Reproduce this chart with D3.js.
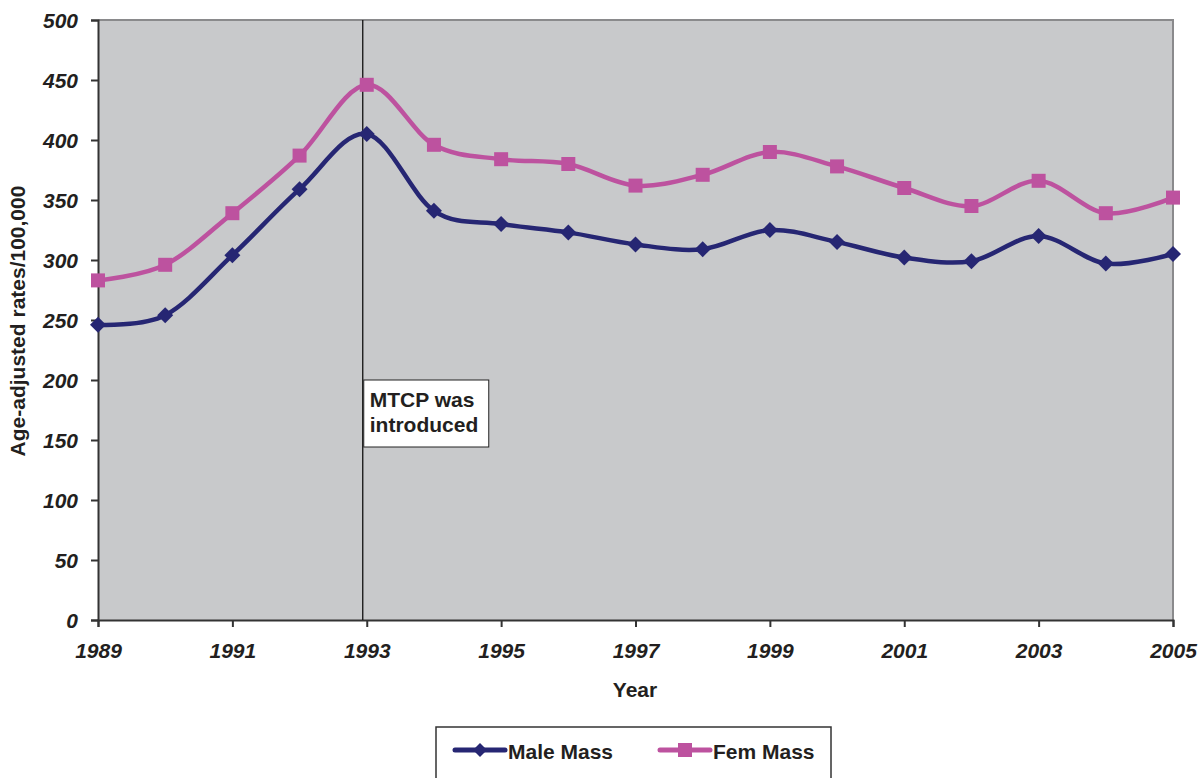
<!DOCTYPE html>
<html><head><meta charset="utf-8">
<script src="https://cdn.jsdelivr.net/npm/d3@7"></script>
<style>body{margin:0;background:#fff;} text{font-family:Arial,"Liberation Sans",sans-serif;}</style>
</head><body>
<svg id="c" width="1204" height="778"></svg>
<script>
const years = [1989,1990,1991,1992,1993,1994,1995,1996,1997,1998,1999,2000,2001,2002,2003,2004,2005];
const maleMass = [246,254,304,359,405,341,330,323,313,309,325,315,302,299,320,297,305];
const femMass  = [283,296,339,387,446,396,384,380,362,371,390,378,360,345,366,339,352];
const xTicks = [1989,1991,1993,1995,1997,1999,2001,2003,2005];
const yTicks = [0,50,100,150,200,250,300,350,400,450,500];
const seriesNames = ["Male Mass","Fem Mass"];
const colors = ["#262673","#BD529F"];
const textColor = "#231f20";

const svg = d3.select("#c");
const L=98, R=1173, T=20, B=620;
const x = d3.scaleLinear().domain([1989,2005]).range([L,R]);
const y = d3.scaleLinear().domain([0,500]).range([B,T]);

svg.append("rect").attr("x",L).attr("y",T).attr("width",R-L).attr("height",B-T).attr("fill","#C8C9CB");
svg.append("path").attr("d",`M${L},${T}H${R}V${B}`).attr("fill","none").attr("stroke","#8a8a8c").attr("stroke-width",2);

const ya = svg.append("g").attr("transform",`translate(${L},0)`)
  .call(d3.axisLeft(y).tickValues(yTicks).tickSize(7).tickPadding(13));
ya.select(".domain").attr("stroke","#333").attr("stroke-width",2);
ya.selectAll(".tick line").attr("stroke","#333").attr("stroke-width",2);
ya.selectAll("text").attr("font-size",21).attr("font-weight","bold").attr("font-style","italic").attr("fill",textColor).attr("dy","0.36em");

const xa = svg.append("g").attr("transform",`translate(0,${B})`)
  .call(d3.axisBottom(x).tickValues(xTicks).tickFormat(d3.format("d")).tickSize(7).tickPadding(16));
xa.select(".domain").attr("stroke","#333").attr("stroke-width",2);
xa.selectAll(".tick line").attr("stroke","#333").attr("stroke-width",2);
xa.selectAll("text").attr("font-size",21).attr("font-weight","bold").attr("font-style","italic").attr("fill",textColor);

// vertical marker line (slightly left of 1993 as in the original)
const vx = x(1993)-4;
svg.append("line").attr("x1",vx).attr("x2",vx).attr("y1",T).attr("y2",B).attr("stroke","#111").attr("stroke-width",1.3);

svg.append("rect").attr("x",vx+1).attr("y",380).attr("width",125).attr("height",67).attr("fill","#fff").attr("stroke","#222").attr("stroke-width",1);
svg.append("text").attr("x",vx+7).attr("y",407).attr("font-size",21).attr("font-weight","bold").attr("fill",textColor).text("MTCP was");
svg.append("text").attr("x",vx+7).attr("y",432).attr("font-size",21).attr("font-weight","bold").attr("fill",textColor).text("introduced");

const line = d3.line().x((d,i)=>x(years[i])).y(d=>y(d)).curve(d3.curveCardinal.tension(0));
const data = [maleMass, femMass];
const diamond = s=>`M0,${-s}L${s},0L0,${s}L${-s},0Z`;

data.forEach((vals,k)=>{
  svg.append("path").attr("d",line(vals)).attr("fill","none").attr("stroke",colors[k]).attr("stroke-width",4.5);
  const g = svg.append("g");
  vals.forEach((v,i)=>{
    if(k===0) g.append("path").attr("d",diamond(8)).attr("transform",`translate(${x(years[i])},${y(v)})`).attr("fill",colors[k]);
    else g.append("rect").attr("x",x(years[i])-7).attr("y",y(v)-7).attr("width",14).attr("height",14).attr("fill",colors[k]);
  });
});

svg.append("text").attr("x",635).attr("y",697).attr("text-anchor","middle").attr("font-size",21).attr("font-weight","bold").attr("fill",textColor).text("Year");
svg.append("text").attr("transform","translate(25,321) rotate(-90)").attr("text-anchor","middle").attr("font-size",21).attr("font-weight","bold").attr("fill",textColor).text("Age-adjusted rates/100,000");

svg.append("rect").attr("x",436).attr("y",727).attr("width",395).attr("height",60).attr("fill","#fff").attr("stroke","#333").attr("stroke-width",1.5);
const leg = [{x1:455,x2:505,tx:508},{x1:660,x2:710,tx:713}];
leg.forEach((l,k)=>{
  svg.append("line").attr("x1",l.x1).attr("x2",l.x2).attr("y1",750).attr("y2",750).attr("stroke",colors[k]).attr("stroke-width",5).attr("stroke-linecap","round");
  const cx=(l.x1+l.x2)/2;
  if(k===0) svg.append("path").attr("d",diamond(7)).attr("transform",`translate(${cx},750)`).attr("fill",colors[k]);
  else svg.append("rect").attr("x",cx-7).attr("y",743).attr("width",14).attr("height",14).attr("fill",colors[k]);
  svg.append("text").attr("x",l.tx).attr("y",759).attr("font-size",21).attr("font-weight","bold").attr("fill",textColor).text(seriesNames[k]);
});
</script>
</body></html>
